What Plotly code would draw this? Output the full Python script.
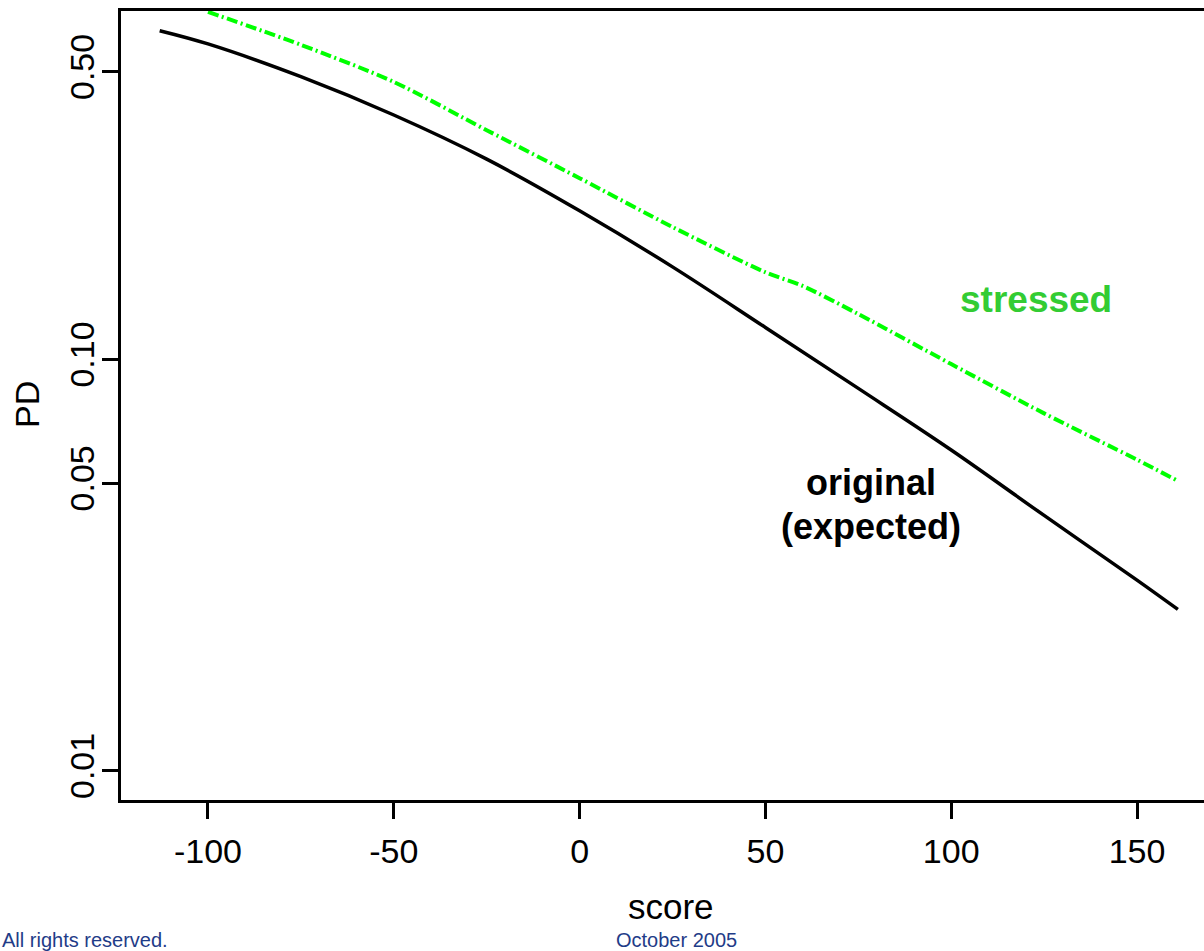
import plotly.graph_objects as go

# ---- data ----
score_orig = [-113, -100, -75, -50, -25, 0, 25, 50, 75, 100, 125, 150, 161]
pd_orig = [0.630, 0.585, 0.487, 0.393, 0.307, 0.230, 0.168, 0.1197, 0.0851, 0.0603, 0.0418, 0.0291, 0.0247]

score_stress = [-100, -75, -50, -25, 0, 25, 50, 60, 75, 100, 125, 150, 161]
pd_stress = [0.700, 0.582, 0.473, 0.361, 0.276, 0.210, 0.163, 0.151, 0.129, 0.0975, 0.0740, 0.0571, 0.0507]

x_ticks = [-100, -50, 0, 50, 100, 150]
x_ticktext = ["-100", "-50", "0", "50", "100", "150"]
y_ticks = [0.01, 0.05, 0.10, 0.50]
y_ticktext = ["0.01", "0.05", "0.10", "0.50"]

FONT = "Liberation Sans, Arial, sans-serif"

fig = go.Figure()
fig.add_trace(go.Scatter(
    x=score_orig, y=pd_orig, mode="lines",
    line=dict(color="black", width=3.5, shape="spline", smoothing=1.0),
    showlegend=False, hoverinfo="skip"))
fig.add_trace(go.Scatter(
    x=score_stress, y=pd_stress, mode="lines",
    line=dict(color="#00FF00", width=4, dash="11px,3.5px,2px,3.5px", shape="spline", smoothing=0.8),
    showlegend=False, hoverinfo="skip"))

W, H = 1204, 951
L, R, T, B = 121, 0, 11, 151
pw = W - L - R
ph = H - T - B

def px(xp):
    return (xp - L) / pw

def py(yp):
    return (H - B - yp) / ph

fig.update_layout(
    width=W, height=H,
    margin=dict(l=L, r=R, t=T, b=B, pad=0),
    paper_bgcolor="white", plot_bgcolor="white",
    font=dict(family=FONT, color="black", size=34),
    xaxis=dict(
        range=[-123.41, 168.03], showgrid=False, zeroline=False,
        showline=True, linecolor="black", linewidth=3, mirror=True,
        ticks="outside", ticklen=16, tickwidth=3, tickcolor="black",
        tickvals=x_ticks, ticktext=x_ticktext,
        tickfont=dict(size=34, family=FONT, color="black"),
        ticklabelstandoff=3,
    ),
    yaxis=dict(
        type="log", range=[-2.0705, -0.1528], showgrid=False, zeroline=False,
        showline=True, linecolor="black", linewidth=3, mirror=False,
        ticks="outside", ticklen=16, tickwidth=3, tickcolor="black",
        tickvals=y_ticks, ticktext=y_ticktext, tickangle=-90,
        tickfont=dict(size=34, family=FONT, color="black"),
        ticklabelstandoff=-6,
    ),
)

ann = []
ann.append(dict(text="score", x=px(671), y=py(906), xref="paper", yref="paper",
                showarrow=False, xanchor="center", yanchor="middle",
                font=dict(size=35, family=FONT, color="black")))
ann.append(dict(text="PD", x=px(27), y=py(405), xref="paper", yref="paper",
                showarrow=False, xanchor="center", yanchor="middle", textangle=-90,
                font=dict(size=34, family=FONT, color="black")))
ann.append(dict(text="<b>stressed</b>", x=px(1036), y=py(300), xref="paper", yref="paper",
                showarrow=False, xanchor="center", yanchor="middle",
                font=dict(size=37, family=FONT, color="#33CC33")))
ann.append(dict(text="<b>original</b>", x=px(871), y=py(482), xref="paper", yref="paper",
                showarrow=False, xanchor="center", yanchor="middle",
                font=dict(size=36, family=FONT, color="black")))
ann.append(dict(text="<b>(expected)</b>", x=px(871), y=py(526), xref="paper", yref="paper",
                showarrow=False, xanchor="center", yanchor="middle",
                font=dict(size=36, family=FONT, color="black")))
ann.append(dict(text="October 2005", x=px(676), y=py(940), xref="paper", yref="paper",
                showarrow=False, xanchor="center", yanchor="middle",
                font=dict(size=20, family=FONT, color="#1F3C88")))
ann.append(dict(text="All rights reserved.", x=px(0), y=py(940), xref="paper", yref="paper",
                showarrow=False, xanchor="left", yanchor="middle",
                font=dict(size=20, family=FONT, color="#1F3C88")))
fig.update_layout(annotations=ann)

fig.write_html("out.html")
